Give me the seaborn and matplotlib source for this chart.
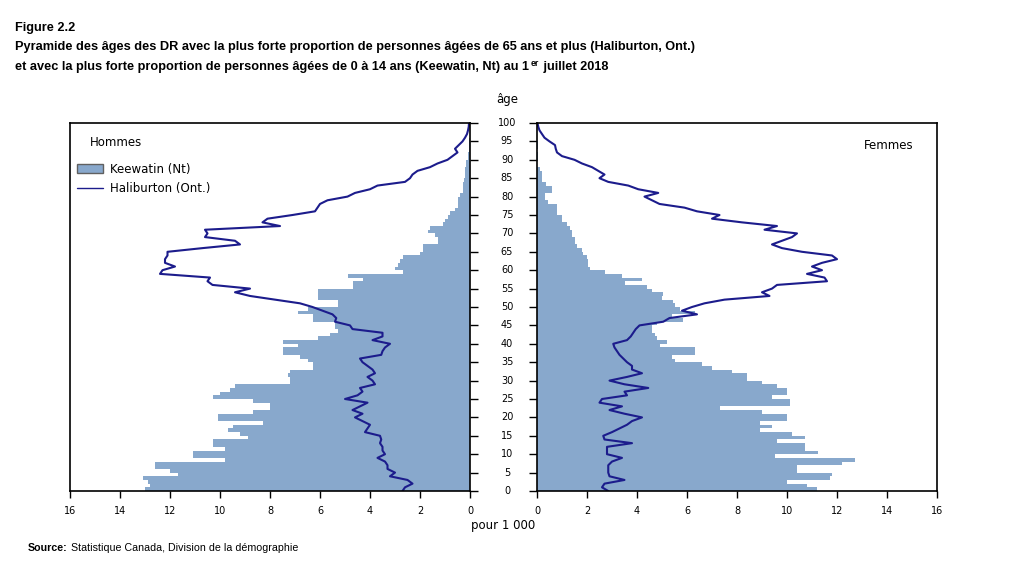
import numpy as np
import pandas as pd

import matplotlib
matplotlib.use('Agg')

from matplotlib import pyplot as plt
from matplotlib.patches import Patch
from matplotlib.lines import Line2D
import matplotlib.transforms as mtransforms
import seaborn as sns

#==============================================================================
# data: per 1 000, ages 0 to 100

ages = list(range(101))

keewatin_hommes = [
    13.0, 12.8, 12.9, 13.1, 11.7, 12.0, 12.6, 12.6, 9.8, 11.1,
    11.1, 9.8, 10.3, 10.3, 8.9, 9.2, 9.7, 9.5, 8.3, 10.1,
    10.1, 8.7, 8.0, 8.0, 8.7, 10.3, 10.0, 9.6, 9.4, 7.2,
    7.2, 7.3, 7.2, 6.3, 6.3, 6.5, 6.8, 7.5, 7.5, 6.9,
    7.5, 6.1, 5.6, 5.3, 5.4, 5.4, 6.3, 6.3, 6.9, 6.5,
    5.3, 5.3, 6.1, 6.1, 6.1, 4.7, 4.7, 4.3, 4.9, 2.7,
    3.0, 2.9, 2.8, 2.7, 2.0, 1.9, 1.9, 1.3, 1.3, 1.4,
    1.7, 1.6, 1.1, 1.0, 0.9, 0.8, 0.6, 0.5, 0.5, 0.5,
    0.4, 0.3, 0.3, 0.3, 0.25, 0.2, 0.2, 0.2, 0.15, 0.15,
    0.1, 0.08, 0.05, 0.05, 0.05, 0.03, 0.0, 0.0, 0.0, 0.0,
    0.0,
]

haliburton_hommes = [
    2.7, 2.6, 2.3, 2.5, 3.2, 3.0, 3.3, 3.3, 3.4, 3.7,
    3.4, 3.5, 3.5, 3.6, 3.55, 3.6, 4.2, 4.1, 4.0, 4.3,
    4.6, 4.3, 4.7, 4.4, 4.1, 5.0, 4.5, 4.3, 4.4, 3.8,
    3.9, 4.1, 3.8, 3.9, 4.1, 4.3, 4.4, 3.55, 3.5, 3.4,
    3.2, 3.9, 3.5, 3.5, 4.7, 4.8, 5.4, 5.35, 5.5, 5.9,
    6.3, 6.8, 7.8, 8.8, 9.4, 8.8, 10.3, 10.5, 10.4, 12.4,
    12.3, 11.8, 12.2, 12.2, 12.1, 12.1, 10.7, 9.2, 9.4, 10.6,
    10.5, 10.6, 7.6, 8.3, 8.1, 7.1, 6.2, 6.1, 6.0, 5.7,
    4.9, 4.6, 4.0, 3.7, 2.6, 2.4, 2.3, 2.1, 1.6, 1.3,
    0.9, 0.7, 0.5, 0.6, 0.45, 0.3, 0.2, 0.12, 0.08, 0.05,
    0.04,
]

keewatin_femmes = [
    11.2, 10.8, 10.0, 11.7, 11.8, 10.4, 10.4, 12.2, 12.7, 9.5,
    11.25, 10.7, 10.7, 9.6, 10.7, 10.2, 8.9, 9.4, 8.9, 10.0,
    10.0, 9.0, 7.3, 10.1, 10.1, 9.4, 10.0, 10.0, 9.6, 9.0,
    8.4, 8.4, 7.8, 7.0, 6.6, 5.5, 5.4, 6.3, 6.3, 4.9,
    5.2, 4.8, 4.7, 4.6, 4.6, 4.8, 5.85, 5.4, 6.3, 5.7,
    5.5, 5.45, 5.0, 5.05, 4.6, 4.4, 3.5, 4.2, 3.4, 2.7,
    2.1, 2.05, 2.05, 2.0, 1.85, 1.8, 1.6, 1.5, 1.5, 1.4,
    1.4, 1.3, 1.2, 1.0, 1.0, 0.8, 0.8, 0.8, 0.45, 0.3,
    0.3, 0.6, 0.6, 0.35, 0.2, 0.2, 0.2, 0.1, 0.0, 0.0,
    0.05, 0.05, 0.0, 0.05, 0.05, 0.0, 0.0, 0.0, 0.0, 0.0,
    0.0,
]

haliburton_femmes = [
    2.85, 2.6, 2.7, 3.5, 2.9, 2.85, 2.85, 2.85, 3.0, 3.4,
    2.8, 2.8, 2.8, 3.8, 2.7, 2.65, 3.0, 3.3, 3.6, 3.8,
    4.2, 3.5, 2.9, 3.4, 2.5, 2.6, 3.6, 3.5, 4.45, 3.5,
    2.9, 3.6, 4.2, 3.8, 3.8, 3.6, 3.45, 3.3, 3.2, 3.1,
    3.05, 3.6, 3.75, 3.85, 3.95, 4.1, 5.05, 5.3, 6.4, 5.8,
    6.2, 6.7, 7.5, 9.3, 9.0, 9.4, 9.6, 11.6, 11.5, 10.8,
    11.4, 11.0, 11.4, 12.0, 11.8, 10.6, 9.8, 9.4, 9.8, 10.2,
    10.4, 9.1, 9.6, 8.2, 7.0, 7.3, 6.4, 5.9, 4.9, 4.6,
    4.3, 4.85, 4.05, 3.65, 2.85, 2.5, 2.7, 2.45, 2.2, 1.8,
    1.5, 1.0, 0.8, 0.75, 0.72, 0.5, 0.3, 0.2, 0.1, 0.05,
    0.02,
]

x_ticks = list(range(0, 17, 2))
age_ticks = list(range(0, 101, 5))

bar_color = '#88A8CC'
line_color = '#1C1C8C'

#==============================================================================

sns.set_theme(style='white')
plt.rcParams['font.family'] = ['DejaVu Sans']
plt.rcParams['text.color'] = 'black'
plt.rcParams['xtick.color'] = 'black'
plt.rcParams['ytick.color'] = 'black'

fig = plt.figure(figsize=(10.21, 5.87), dpi=100)
W, H = 1021, 587


def axes_box(x0, y0, x1, y1):
    return [x0 / W, 1 - y1 / H, (x1 - x0) / W, (y1 - y0) / H]


ax_h = fig.add_axes(axes_box(70, 123, 470, 491))
ax_f = fig.add_axes(axes_box(537, 123, 937, 491))

df = pd.DataFrame({
    'age': ages,
    'mid': [a + 0.5 for a in ages],
    'keewatin_h': keewatin_hommes,
    'haliburton_h': haliburton_hommes,
    'keewatin_f': keewatin_femmes,
    'haliburton_f': haliburton_femmes,
})

for ax, kcol, hcol in [(ax_h, 'keewatin_h', 'haliburton_h'),
                       (ax_f, 'keewatin_f', 'haliburton_f')]:
    sns.barplot(data=df, x=kcol, y='mid', orient='h', native_scale=True,
                width=1.0, color=bar_color, saturation=1, linewidth=0,
                ax=ax)
    sns.lineplot(data=df, x=hcol, y='age', sort=False, estimator=None,
                 color=line_color, linewidth=1.5, ax=ax)
    ax.set_ylim(0, 100)
    ax.set_xticks(x_ticks)
    ax.set_xticklabels([str(t) for t in x_ticks], fontsize=7)
    ax.set_yticks(age_ticks)
    ax.set_xlabel('')
    ax.set_ylabel('')
    for s in ax.spines.values():
        s.set_visible(True)
        s.set_color('black')
        s.set_linewidth(1.2)
    ax.tick_params(axis='x', direction='out', length=5, width=1, color='black',
                   bottom=True, pad=6)
    ax.tick_params(axis='y', direction='out', length=6, width=1, color='black')

ax_h.set_xlim(16, 0)
ax_f.set_xlim(0, 16)

ax_h.yaxis.tick_right()
ax_h.tick_params(axis='y', labelright=False, left=False, right=True)
ax_f.yaxis.tick_left()
ax_f.tick_params(axis='y', labelleft=False, left=True, right=False)

# age labels between the two panels
trans = mtransforms.blended_transform_factory(fig.transFigure, ax_h.transData)
for a in age_ticks:
    fig.text(507 / W, a, str(a), transform=trans, ha='center', va='center',
             fontsize=7)

ax_h.text(0.05, 0.948, 'Hommes', transform=ax_h.transAxes, fontsize=8.5,
          ha='left', va='center')
ax_f.text(0.94, 0.94, 'Femmes', transform=ax_f.transAxes, fontsize=8.5,
          ha='right', va='center')

handles = [Patch(facecolor=bar_color, edgecolor='#606060', linewidth=1),
           Line2D([0], [0], color=line_color, linewidth=1)]
ax_h.legend(handles, ['Keewatin (Nt)', 'Haliburton (Ont.)'], loc='upper left',
            bbox_to_anchor=(0.005, 0.905), frameon=False, fontsize=8.5,
            handlelength=2.2, handletextpad=0.6, labelspacing=0.55,
            borderaxespad=0)

fig.text(507 / W, 1 - 100 / H, 'âge', ha='center', va='center', fontsize=8.5)
fig.text(503 / W, 1 - 525 / H, 'pour 1 000', ha='center', va='center',
         fontsize=8.5)

title_font = 'Liberation Sans'
fig.text(15 / W, 1 - 28 / H, 'Figure 2.2', ha='left', va='center',
         fontsize=9.2, fontweight='bold', family=title_font)
fig.text(15 / W, 1 - 47 / H,
         'Pyramide des âges des DR avec la plus forte proportion de personnes '
         'âgées de 65 ans et plus (Haliburton, Ont.)',
         ha='left', va='center', fontsize=9.2, fontweight='bold',
         family=title_font)

# third title line with superscript "er"
fig.canvas.draw()
renderer = fig.canvas.get_renderer()
t1 = fig.text(15 / W, 1 - 67 / H,
              'et avec la plus forte proportion de personnes âgées de 0 à 14 '
              'ans (Keewatin, Nt) au 1',
              ha='left', va='center', fontsize=9.2, fontweight='bold',
              family=title_font)
x_end = t1.get_window_extent(renderer).x1
t2 = fig.text((x_end + 1.5) / W, 1 - 63.5 / H, 'er', ha='left', va='center',
              fontsize=6.2, fontweight='bold', family=title_font)
x_end = t2.get_window_extent(renderer).x1
fig.text((x_end + 1) / W, 1 - 67 / H, ' juillet 2018', ha='left', va='center',
         fontsize=9.2, fontweight='bold', family=title_font)

src = fig.text(28 / W, 1 - 548 / H, 'Source:', ha='left', va='center',
               fontsize=7.7, fontweight='bold', family=title_font)
bb = src.get_window_extent(renderer)
fig.text((bb.x1 + 3) / W, 1 - 548 / H,
         'Statistique Canada, Division de la démographie', ha='left',
         va='center', fontsize=7.7, family=title_font)

plt.savefig('out.png', dpi=100)
